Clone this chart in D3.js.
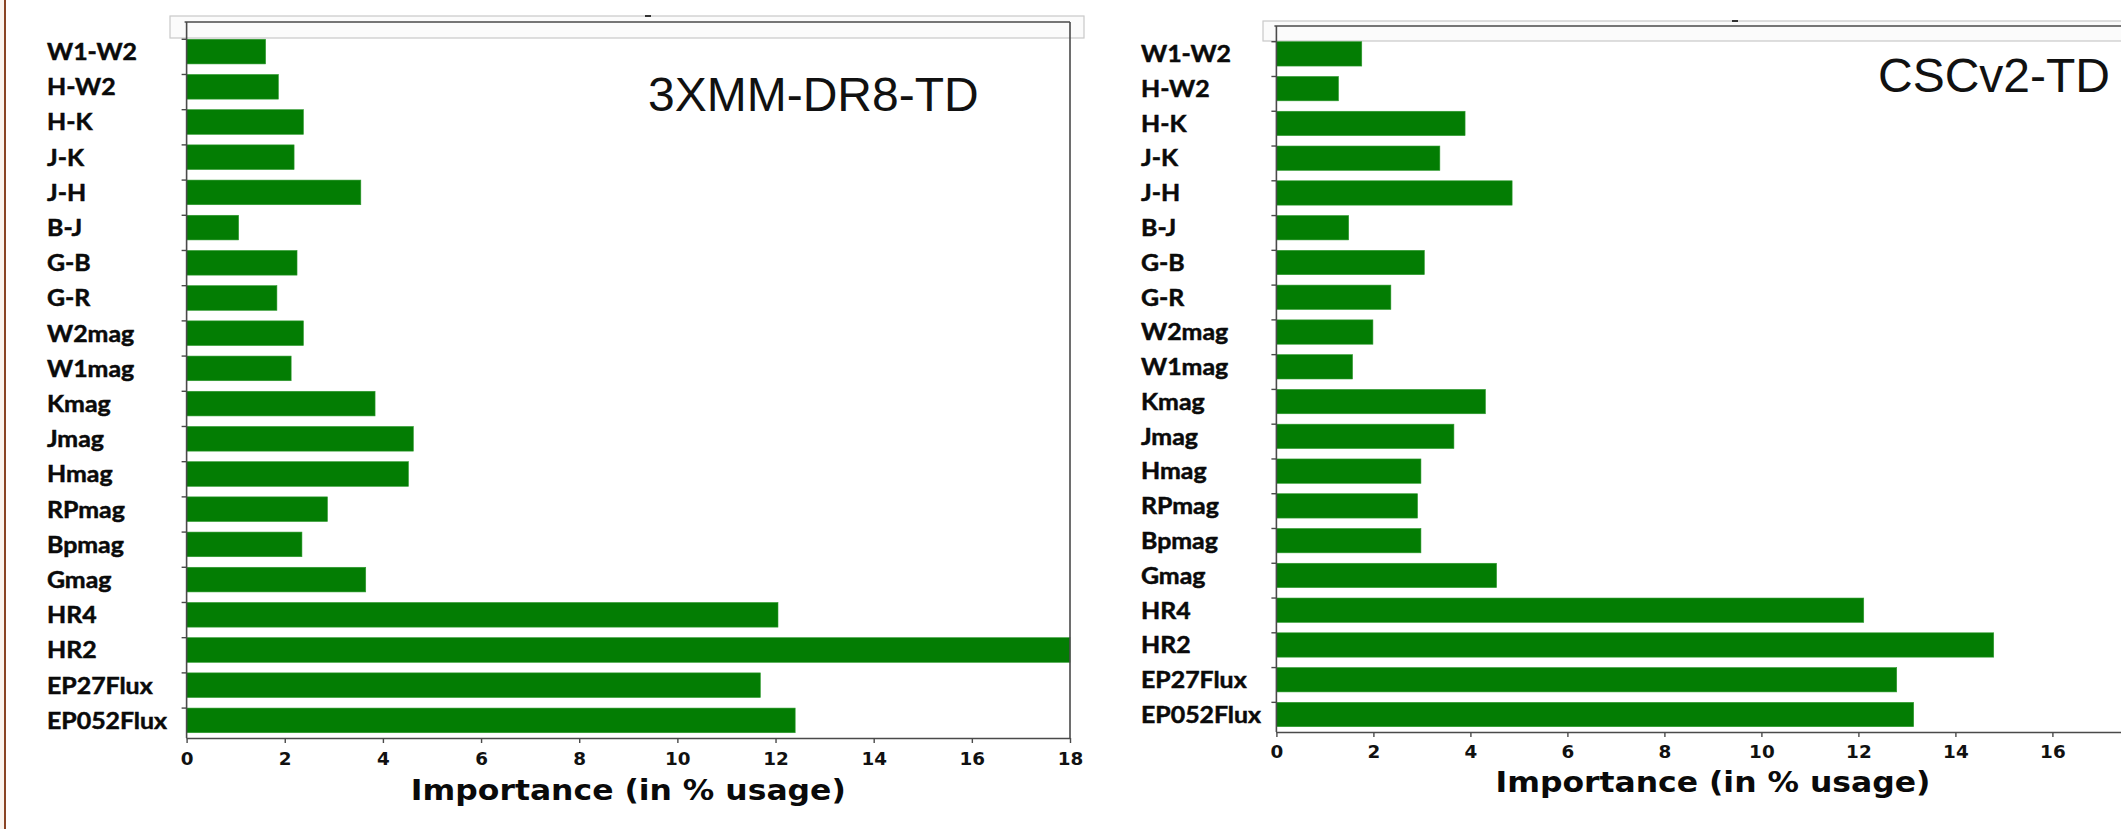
<!DOCTYPE html>
<html>
<head>
<meta charset="utf-8">
<script src="https://cdn.jsdelivr.net/npm/d3@7"></script>
<style>
  html, body { margin: 0; padding: 0; background: #ffffff; }
  svg { display: block; }
</style>
</head>
<body>
<svg id="chart" width="2121" height="829"></svg>
<script>
// Feature importance of the classifier inputs, for the two training sets.
const categories = ["W1-W2", "H-W2", "H-K", "J-K", "J-H", "B-J", "G-B", "G-R", "W2mag", "W1mag",
                    "Kmag", "Jmag", "Hmag", "RPmag", "Bpmag", "Gmag", "HR4", "HR2", "EP27Flux", "EP052Flux"];
const xmmImportance = [1.61, 1.87, 2.38, 2.19, 3.55, 1.06, 2.25, 1.84, 2.38, 2.13,
                       3.84, 4.62, 4.52, 2.87, 2.35, 3.65, 12.05, 18.0, 11.69, 12.40];
const cscImportance = [1.76, 1.28, 3.89, 3.37, 4.86, 1.49, 3.05, 2.36, 1.99, 1.57,
                       4.31, 3.66, 2.98, 2.91, 2.98, 4.54, 12.11, 14.79, 12.79, 13.14];
const xTicks = [0, 2, 4, 6, 8, 10, 12, 14, 16, 18];
const panelTitles = ["3XMM-DR8-TD", "CSCv2-TD"];
const axisTitle = "Importance (in % usage)";

const W = 2121, H = 829;
const svg = d3.select("#chart");
const BAR = "#037d03";
const SPINE = "#4a4a4a";

// brown page border on the left edge
svg.append("rect").attr("x", 0).attr("y", 0).attr("width", 4).attr("height", H).attr("fill", "#fbf4ee");
svg.append("line").attr("x1", 5).attr("x2", 5).attr("y1", 0).attr("y2", H)
  .attr("stroke", "#8a4424").attr("stroke-width", 2);

const panels = [
  { values: xmmImportance, title: panelTitles[0],
    x0: 186.6, x18: 1070, frameTop: 22, bandTop: 34, bandBottom: 738, axisY: 738,
    labelX: 47, box: [170, 16, 1084, 38], rightSpine: true,
    titleX: 648, titleY: 111, tickBase: 765, axisTitleBase: 800, topDashX: 648 },
  { values: cscImportance, title: panelTitles[1],
    x0: 1276.4, x18: 1276.4 + 18 * 48.5, frameTop: 26, bandTop: 36.5, bandBottom: 731.9, axisY: 732,
    labelX: 1141, box: [1263, 21, 2200, 41], rightSpine: false,
    titleX: 1878, titleY: 92, tickBase: 758, axisTitleBase: 792, topDashX: 1735 }
];

function stretch(sel, sx) {
  sel.each(function () {
    const t = d3.select(this);
    const x = +t.attr("x") || 0, y = +t.attr("y") || 0;
    t.attr("x", null).attr("y", null)
     .attr("transform", `translate(${x},${y}) scale(${sx},1)`);
  });
}

panels.forEach(p => {
  const g = svg.append("g");
  const x = d3.scaleLinear().domain([0, 18]).range([p.x0, p.x18]);
  const y = d3.scaleBand().domain(categories).range([p.bandTop, p.bandBottom])
    .paddingInner(0.3).paddingOuter(0.15);

  // light grey box at the top of the panel
  const [bx0, by0, bx1, by1] = p.box;
  g.append("rect").attr("x", bx0).attr("y", by0).attr("width", bx1 - bx0).attr("height", by1 - by0)
    .attr("fill", "#fbfbfb").attr("stroke", "#c9c9c9").attr("stroke-width", 1.2);
  g.append("rect").attr("x", p.topDashX - 3).attr("y", by0 - 1).attr("width", 6).attr("height", 2)
    .attr("fill", "#333");

  // bars
  g.selectAll("rect.bar").data(categories).join("rect").attr("class", "bar")
    .attr("x", x(0)).attr("y", d => y(d))
    .attr("width", (d, i) => x(p.values[i]) - x(0))
    .attr("height", y.bandwidth())
    .attr("fill", BAR).attr("stroke", "#2f9a2f").attr("stroke-width", 0.6);

  // frame
  const xEnd = p.rightSpine ? x(18) : W;
  g.append("line").attr("x1", x(0) - 2).attr("x2", xEnd)
    .attr("y1", p.frameTop).attr("y2", p.frameTop).attr("stroke", SPINE).attr("stroke-width", 1.6);
  g.append("line").attr("x1", x(0)).attr("x2", x(0)).attr("y1", p.frameTop).attr("y2", p.axisY)
    .attr("stroke", SPINE).attr("stroke-width", 1.6);
  if (p.rightSpine) {
    g.append("line").attr("x1", x(18)).attr("x2", x(18)).attr("y1", p.frameTop).attr("y2", p.axisY)
      .attr("stroke", SPINE).attr("stroke-width", 1.6);
  }

  // y ticks at the band edges
  g.selectAll("line.ytick").data(categories).join("line").attr("class", "ytick")
    .attr("x1", x(0) - 5).attr("x2", x(0)).attr("y1", d => y(d)).attr("y2", d => y(d))
    .attr("stroke", SPINE).attr("stroke-width", 1.4);

  // category labels
  const labels = g.selectAll("text.cat").data(categories).join("text").attr("class", "cat")
    .attr("x", p.labelX).attr("y", d => y(d) + y.bandwidth() / 2 + 8.3)
    .attr("font-family", "Lato, 'Noto Sans', sans-serif").attr("font-weight", 700)
    .attr("font-size", 23).attr("fill", "#0a0a0a")
    .attr("stroke", "#0a0a0a").attr("stroke-width", 0.5).text(d => d);
  const w = labels.filter(d => d === "W1-W2").node().getComputedTextLength();
  stretch(labels, 90 / w);

  // x axis: only the ticks that fall inside the page
  const visibleTicks = xTicks.filter(v => x(v) + 12 < W);
  const ax = g.append("g").attr("transform", `translate(0,${p.axisY})`)
    .call(d3.axisBottom(x).tickValues(visibleTicks).tickSize(5).tickSizeOuter(0).tickFormat(d3.format("d")));
  ax.select(".domain").attr("stroke", SPINE).attr("stroke-width", 1.6)
    .attr("d", `M${x(0)},0.5H${xEnd}`);
  ax.selectAll(".tick line").attr("stroke", SPINE).attr("stroke-width", 1.4);
  const tt = ax.selectAll(".tick text")
    .attr("font-family", "'DejaVu Sans', sans-serif").attr("font-weight", 700)
    .attr("font-size", 17).attr("fill", "#111").attr("dy", null)
    .attr("y", p.tickBase - p.axisY);
  stretch(tt, 1.08);

  const at = g.append("text").attr("x", (x(0) + x(18)) / 2).attr("y", p.axisTitleBase)
    .attr("text-anchor", "middle")
    .attr("font-family", "'DejaVu Sans', sans-serif").attr("font-weight", 700)
    .attr("font-size", 28.5).attr("fill", "#0a0a0a").text(axisTitle);
  const aw = at.node().getComputedTextLength();
  stretch(at, 435 / aw);

  // panel title
  g.append("text").attr("x", p.titleX).attr("y", p.titleY)
    .attr("font-family", "'Liberation Sans', Arial, sans-serif")
    .attr("font-size", 48).attr("fill", "#111").text(p.title);
});
</script>
</body>
</html>
